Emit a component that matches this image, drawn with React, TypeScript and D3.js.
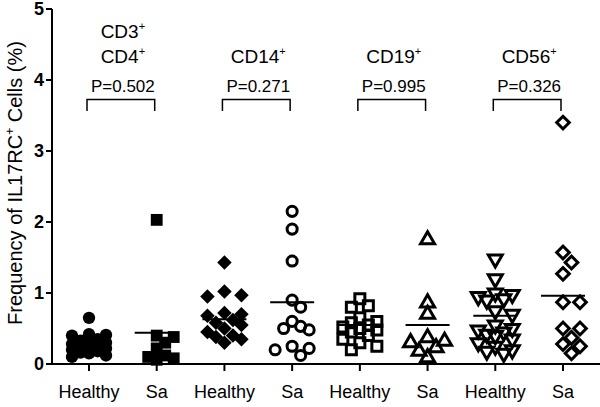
import React from "react";
import * as d3 from "d3";

// ---- data ----
const categoryKeys = ["H1", "S1", "H2", "S2", "H3", "S3", "H4", "S4"];
const categoryLabels = ["Healthy", "Sa", "Healthy", "Sa", "Healthy", "Sa", "Healthy", "Sa"];
const groupTitles = [["CD3", "CD4"], ["CD14"], ["CD19"], ["CD56"]];
const pValues = ["P=0.502", "P=0.271", "P=0.995", "P=0.326"];
const yTicks = [0, 1, 2, 3, 4, 5];

const healthyCD4 = [0.65, 0.42, 0.41, 0.40, 0.35, 0.33, 0.31, 0.30, 0.28, 0.27, 0.25, 0.24, 0.22, 0.20, 0.18, 0.16, 0.15, 0.12, 0.10];
const saCD4 = [2.03, 0.40, 0.38, 0.30, 0.22, 0.12, 0.10, 0.08, 0.06];
const healthyCD14 = [1.43, 1.02, 0.97, 0.95, 0.72, 0.70, 0.68, 0.62, 0.58, 0.55, 0.50, 0.45, 0.40, 0.38, 0.35, 0.30];
const saCD14 = [2.15, 1.90, 1.45, 0.90, 0.80, 0.60, 0.53, 0.50, 0.48, 0.25, 0.22, 0.20, 0.12];
const healthyCD19 = [0.92, 0.82, 0.80, 0.65, 0.60, 0.58, 0.55, 0.52, 0.50, 0.48, 0.45, 0.40, 0.35, 0.30, 0.25, 0.20];
const saCD19 = [1.75, 0.86, 0.70, 0.37, 0.32, 0.30, 0.23, 0.18, 0.09];
const healthyCD56 = [1.48, 1.20, 1.00, 0.98, 0.95, 0.92, 0.90, 0.75, 0.70, 0.55, 0.50, 0.48, 0.45, 0.42, 0.40, 0.35, 0.30, 0.25, 0.20, 0.18, 0.15];
const saCD56 = [3.40, 1.57, 1.43, 1.27, 0.87, 0.87, 0.50, 0.50, 0.37, 0.28, 0.25, 0.15];
const meanLines = [0.28, 0.44, 0.63, 0.87, 0.55, 0.55, 0.68, 0.96];

const seriesValues = [healthyCD4, saCD4, healthyCD14, saCD14, healthyCD19, saCD19, healthyCD56, saCD56];

// ---- markers ----
type Marker = { type: d3.SymbolType; size: number; filled: boolean; rotate: number; w: number };
const markers: Marker[] = [
  { type: d3.symbolCircle, size: 120, filled: true, rotate: 0, w: 12 },
  { type: d3.symbolSquare, size: 140, filled: true, rotate: 0, w: 12 },
  { type: d3.symbolSquare, size: 105, filled: true, rotate: 45, w: 13 },
  { type: d3.symbolCircle, size: 80, filled: false, rotate: 0, w: 12 },
  { type: d3.symbolSquare, size: 100, filled: false, rotate: 0, w: 12 },
  { type: d3.symbolTriangle, size: 85, filled: false, rotate: 0, w: 13 },
  { type: d3.symbolTriangle, size: 85, filled: false, rotate: 180, w: 13 },
  { type: d3.symbolSquare, size: 80, filled: false, rotate: 45, w: 13 },
];

const W = 600;
const H = 407;
const axisX = 52;
const axisY = 364;

const x = d3.scalePoint<string>().domain(categoryKeys).range([89, 563]);
const y = d3.scaleLinear().domain([0, 5]).range([axisY, 9]);

function swarm(values: number[], w: number): { v: number; dx: number }[] {
  const sorted = [...values].sort((a, b) => b - a);
  const placed: { px: number; py: number; v: number }[] = [];
  const step = 8.5;
  const minD = w * 0.8;
  for (const v of sorted) {
    const py = y(v);
    let best = 0;
    let bestD = -1;
    for (let k = 0; k <= 4; k++) {
      const cand = k === 0 ? 0 : (k % 2 === 1 ? 1 : -1) * Math.ceil(k / 2) * step;
      const d = placed.length
        ? Math.min(...placed.map((p) => Math.hypot(p.px - cand, p.py - py)))
        : Infinity;
      if (d >= minD) {
        best = cand;
        bestD = d;
        break;
      }
      if (d > bestD) {
        bestD = d;
        best = cand;
      }
    }
    placed.push({ px: best, py, v });
  }
  return placed.map((p) => ({ v: p.v, dx: p.px }));
}

const font = "'Liberation Sans', Arial, Helvetica, sans-serif";

export default function App() {
  return (
    <svg
      width={W}
      height={H}
      style={{ position: "absolute", left: 0, top: 0, background: "#fff" }}
      fontFamily={font}
    >
      <rect width={W} height={H} fill="#fff" />
      {/* y axis */}
      <line x1={axisX} x2={axisX} y1={y(5)} y2={axisY} stroke="#000" strokeWidth={2} />
      {yTicks.map((t) => (
        <g key={t}>
          <line x1={axisX - 6} x2={axisX} y1={y(t)} y2={y(t)} stroke="#000" strokeWidth={2} />
          <text x={axisX - 8} y={y(t)} dy="0.36em" textAnchor="end" fontSize={18} fontWeight="bold">
            {t}
          </text>
        </g>
      ))}
      <text
        transform={`translate(22,183) rotate(-90)`}
        textAnchor="middle"
        fontSize={20}
      >
        Frequency of IL17RC
        <tspan fontSize={12} dy={-8}>+</tspan>
        <tspan dy={8}> Cells (%)</tspan>
      </text>
      {/* x axis */}
      <line x1={axisX - 1} x2={W} y1={axisY} y2={axisY} stroke="#000" strokeWidth={2} />
      {categoryKeys.map((k, i) => (
        <g key={k}>
          <line x1={x(k)} x2={x(k)} y1={axisY} y2={axisY + 7} stroke="#000" strokeWidth={2} />
          <text x={x(k)} y={398} textAnchor="middle" fontSize={18}>
            {categoryLabels[i]}
          </text>
        </g>
      ))}
      {/* points */}
      {seriesValues.map((vals, i) => {
        const m = markers[i];
        const cx = x(categoryKeys[i])!;
        const path = d3.symbol().type(m.type).size(m.size)()!;
        return (
          <g key={i}>
            {swarm(vals, m.w).map((p, j) => (
              <path
                key={j}
                d={path}
                transform={`translate(${cx + p.dx},${y(p.v)}) rotate(${m.rotate})`}
                fill={m.filled ? "#000" : "none"}
                stroke="#000"
                strokeWidth={m.filled ? 0 : 3}
              />
            ))}
            <line
              x1={cx - 22}
              x2={cx + 22}
              y1={y(meanLines[i])}
              y2={y(meanLines[i])}
              stroke="#000"
              strokeWidth={2}
            />
          </g>
        );
      })}
      {/* group titles, p values, brackets */}
      {groupTitles.map((lines, g) => {
        const x1 = x(categoryKeys[2 * g])!;
        const x2 = x(categoryKeys[2 * g + 1])!;
        const cx = (x1 + x2) / 2;
        return (
          <g key={g}>
            {lines.map((ln, li) => (
              <text
                key={li}
                x={cx}
                y={63 - (lines.length - 1 - li) * 25}
                textAnchor="middle"
                fontSize={19}
              >
                {ln}
                <tspan fontSize={11} dy={-8}>+</tspan>
              </text>
            ))}
            <text x={cx} y={92} textAnchor="middle" fontSize={17}>
              {pValues[g]}
            </text>
            <path
              d={`M${x1 - 2},111 V99.5 H${x2 - 2} V111`}
              fill="none"
              stroke="#000"
              strokeWidth={1.5}
            />
          </g>
        );
      })}
    </svg>
  );
}
